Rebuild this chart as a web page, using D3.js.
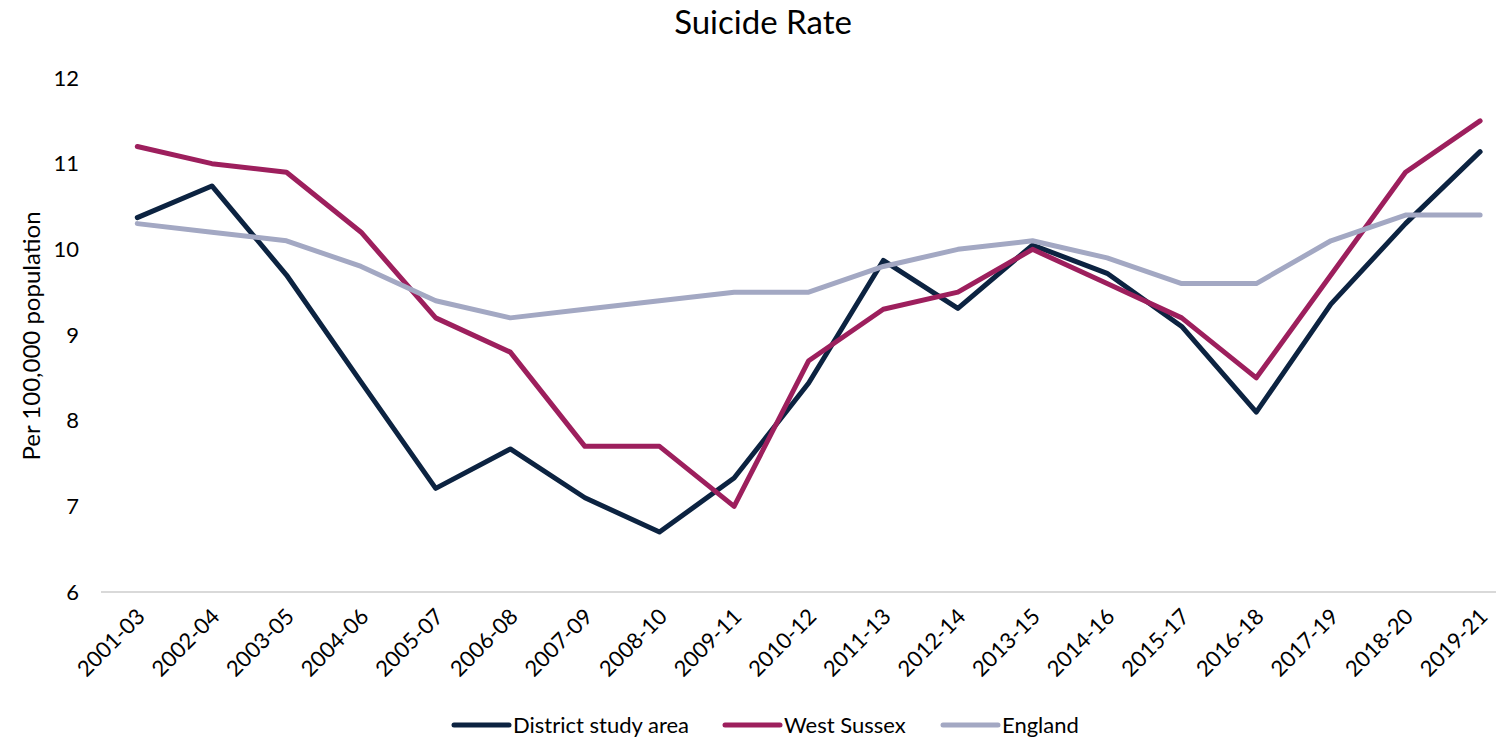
<!DOCTYPE html>
<html>
<head>
<meta charset="utf-8">
<script src="https://cdn.jsdelivr.net/npm/d3@7"></script>
<style>
  html, body { margin: 0; padding: 0; background: #ffffff; }
  svg { display: block; font-family: "Lato", "Open Sans", sans-serif; }
</style>
</head>
<body>
<svg id="chart" width="1496" height="744"></svg>
<script>
// Three-year rolling periods
const periods = ["2001-03", "2002-04", "2003-05", "2004-06", "2005-07", "2006-08", "2007-09",
  "2008-10", "2009-11", "2010-12", "2011-13", "2012-14", "2013-15", "2014-16", "2015-17",
  "2016-18", "2017-19", "2018-20", "2019-21"];

// Suicide rate per 100,000 population
const districtStudyArea = [10.37, 10.74, 9.70, 8.45, 7.21, 7.67, 7.10, 6.70, 7.33, 8.44,
  9.87, 9.31, 10.05, 9.72, 9.10, 8.10, 9.36, 10.30, 11.14];
const westSussex = [11.2, 11.0, 10.9, 10.2, 9.2, 8.8, 7.7, 7.7, 7.0, 8.7,
  9.3, 9.5, 10.0, 9.6, 9.2, 8.5, 9.7, 10.9, 11.5];
const england = [10.3, 10.2, 10.1, 9.8, 9.4, 9.2, 9.3, 9.4, 9.5, 9.5,
  9.8, 10.0, 10.1, 9.9, 9.6, 9.6, 10.1, 10.4, 10.4];

const yTicks = [6, 7, 8, 9, 10, 11, 12];

const seriesNames = ["District study area", "West Sussex", "England"];
const seriesValues = [districtStudyArea, westSussex, england];
const seriesColors = ["#0c2341", "#9d1f5d", "#a3a8c3"];

const svg = d3.select("#chart");

const x = d3.scaleBand().domain(periods).range([100, 1517.4]);
const xc = d => x(d) + x.bandwidth() / 2;
const y = d3.scaleLinear().domain([6, 12]).range([592, 78]);

// Title
svg.append("text")
  .attr("x", 763).attr("y", 34)
  .attr("text-anchor", "middle")
  .attr("font-size", 33)
  .attr("fill", "#000")
  .text("Suicide Rate");

// Y axis labels
const yAxis = d3.axisLeft(y).tickValues(yTicks).tickSize(0).tickPadding(0).tickFormat(d3.format("d"));
const yg = svg.append("g").attr("transform", "translate(79,0)").call(yAxis);
yg.select(".domain").remove();
yg.selectAll("text").attr("font-size", 22).attr("font-family", "Lato, sans-serif").attr("fill", "#000");

// Y axis title
svg.append("text")
  .attr("transform", "translate(40,336) rotate(-90)")
  .attr("text-anchor", "middle")
  .attr("font-size", 24)
  .attr("fill", "#000")
  .text("Per 100,000 population");

// X axis baseline
svg.append("line")
  .attr("x1", 101).attr("x2", 1496)
  .attr("y1", y(6)).attr("y2", y(6))
  .attr("stroke", "#d9d9d9").attr("stroke-width", 2);

// X axis labels, rotated
const xg = svg.append("g").attr("transform", `translate(0,${y(6)})`)
  .call(d3.axisBottom(x).tickSize(0).tickPadding(0));
xg.select(".domain").remove();
xg.selectAll("text")
  .attr("font-size", 22)
  .attr("font-family", "Lato, sans-serif")
  .attr("fill", "#000")
  .attr("text-anchor", "end")
  .attr("dy", null)
  .attr("transform", "translate(9,26) rotate(-45)");

// Series lines
const line = d3.line().x((d, i) => xc(periods[i])).y(d => y(d));
seriesValues.forEach((vals, i) => {
  svg.append("path")
    .datum(vals)
    .attr("d", line)
    .attr("fill", "none")
    .attr("stroke", seriesColors[i])
    .attr("stroke-width", 5)
    .attr("stroke-linejoin", "round")
    .attr("stroke-linecap", "round");
});

// Legend
const legendX = [454, 725, 943];
const legend = svg.append("g");
seriesNames.forEach((name, i) => {
  const g = legend.append("g").attr("transform", `translate(${legendX[i]},725)`);
  g.append("line")
    .attr("x1", 0).attr("x2", 55).attr("y1", 0).attr("y2", 0)
    .attr("stroke", seriesColors[i]).attr("stroke-width", 5).attr("stroke-linecap", "round");
  g.append("text")
    .attr("x", 59).attr("y", 0).attr("dy", "0.35em")
    .attr("font-size", 22).attr("fill", "#000")
    .text(name);
});
</script>
</body>
</html>
